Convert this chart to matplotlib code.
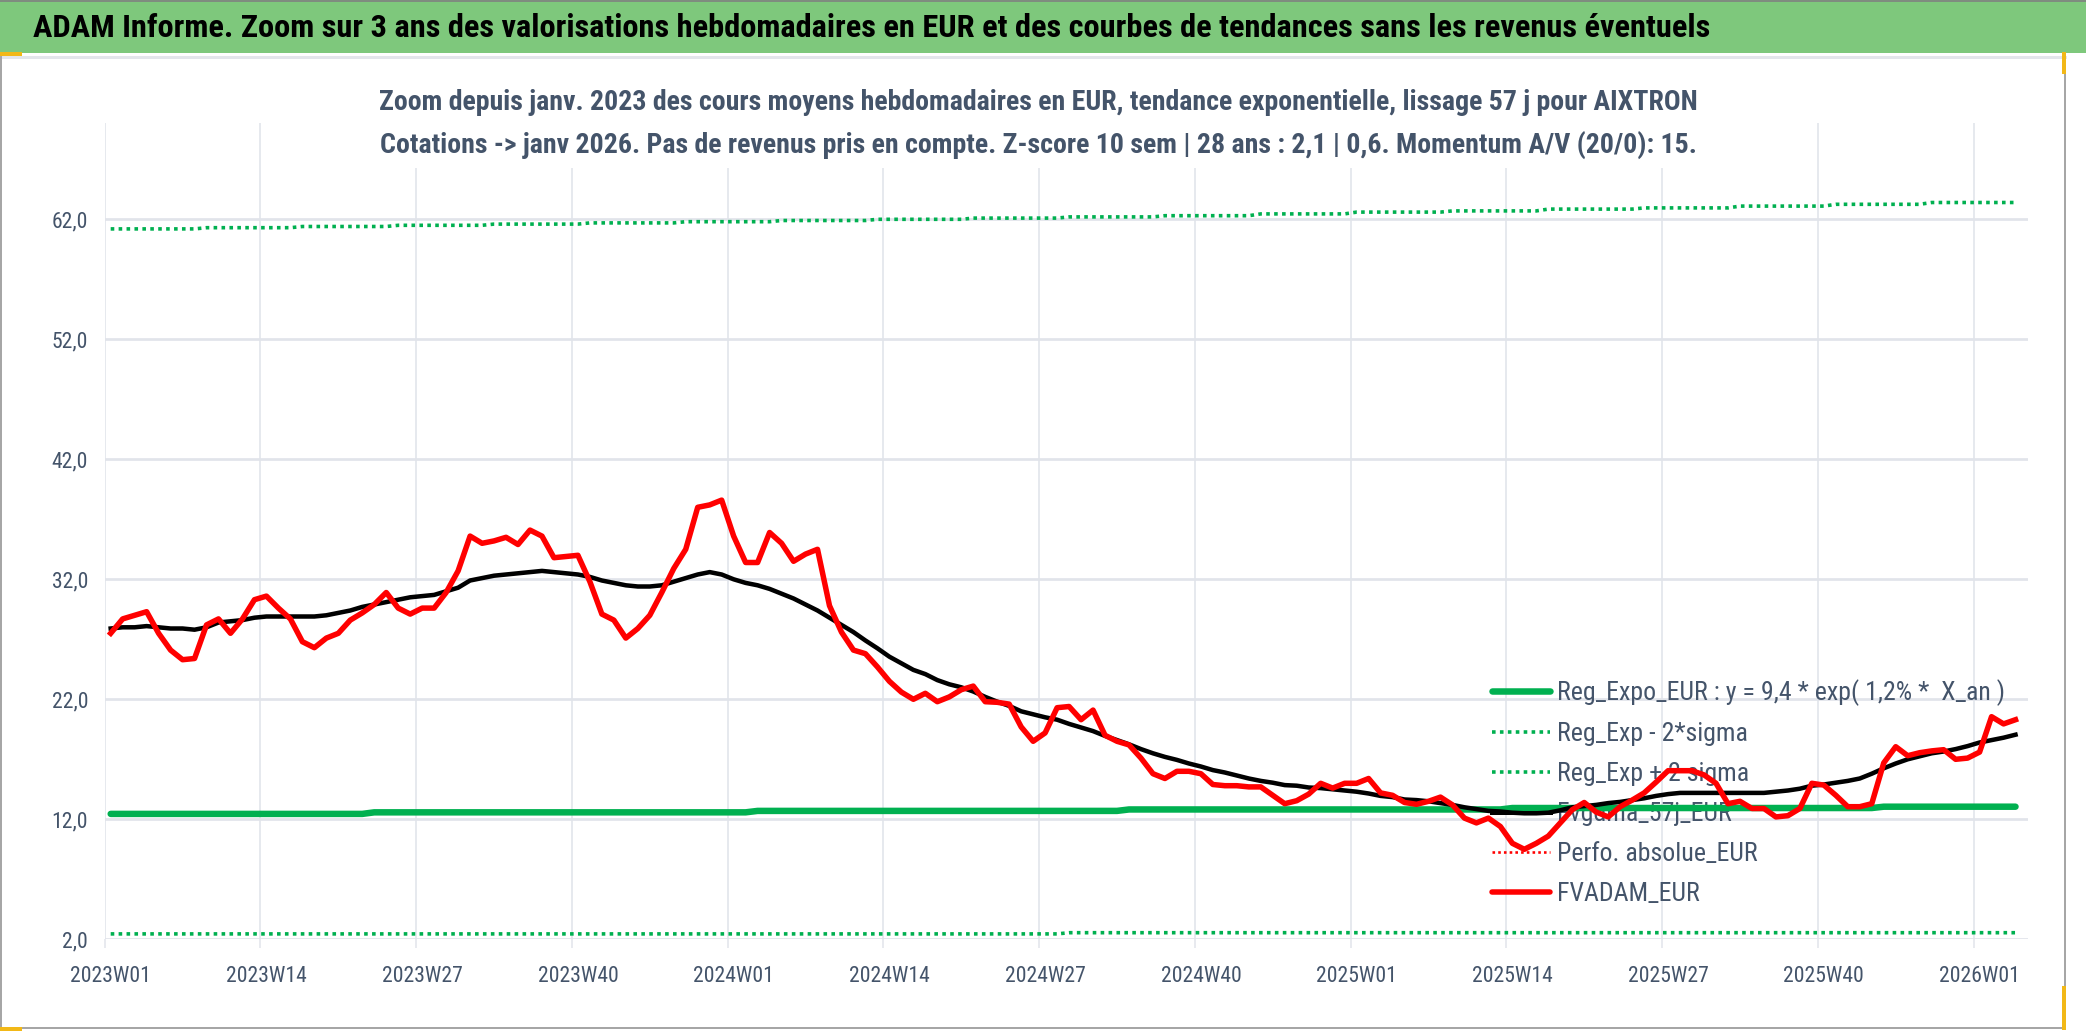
import os
import matplotlib
matplotlib.use("Agg")
import matplotlib.pyplot as plt
from matplotlib import font_manager as fm
from matplotlib.font_manager import FontProperties
from matplotlib.lines import Line2D
from matplotlib.patches import Rectangle

W, H = 2086, 1031

# weekly categories 2023W01 .. 2026W04
weeks = [f"{y}W{w:02d}" for y in (2023, 2024, 2025) for w in range(1, 53)]
weeks += [f"2026W{w:02d}" for w in range(1, 5)]

fvadam = [
    27.5, 28.7, 29.0, 29.3, 27.5, 26.1, 25.3, 25.4, 28.2, 28.7,
    27.5, 28.7, 30.3, 30.6, 29.6, 28.7, 26.8, 26.3, 27.1, 27.5,
    28.6, 29.2, 29.9, 30.9, 29.6, 29.1, 29.6, 29.6, 30.9, 32.7,
    35.6, 35.0, 35.2, 35.5, 34.9, 36.1, 35.6, 33.8, 33.9, 34.0,
    31.8, 29.1, 28.6, 27.1, 27.9, 29.0, 30.9, 32.9, 34.5, 38.0,
    38.2, 38.6, 35.6, 33.4, 33.4, 35.9, 35.0, 33.5, 34.1, 34.5,
    29.8, 27.6, 26.1, 25.8, 24.7, 23.5, 22.6, 22.0, 22.5, 21.8,
    22.2, 22.8, 23.1, 21.8, 21.75, 21.6, 19.7, 18.5, 19.2, 21.3,
    21.4, 20.3, 21.1, 19.0, 18.5, 18.2, 17.1, 15.8, 15.4, 16.0,
    16.0, 15.8, 14.9, 14.8, 14.8, 14.7, 14.7, 14.0, 13.3, 13.55,
    14.1, 15.0, 14.6, 15.0, 15.0, 15.4, 14.2, 14.0, 13.4, 13.25,
    13.5, 13.85, 13.2, 12.1, 11.7, 12.1, 11.4, 10.0, 9.5, 10.0,
    10.6, 11.7, 12.8, 13.4, 12.6, 12.2, 13.05, 13.6, 14.2, 15.1,
    16.05, 16.05, 16.05, 15.7, 15.0, 13.3, 13.5, 12.9, 12.9, 12.2,
    12.3, 12.9, 15.0, 14.85, 14.0, 13.05, 13.05, 13.3, 16.7, 18.05,
    17.3, 17.55, 17.7, 17.8, 17.0, 17.1, 17.6, 20.55, 19.95, 20.3,
]

fvgdma = [
    27.9, 28.0, 28.0, 28.1, 28.0, 27.9, 27.9, 27.8, 28.0, 28.4,
    28.5, 28.6, 28.8, 28.9, 28.9, 28.9, 28.9, 28.9, 29.0, 29.2,
    29.4, 29.7, 29.9, 30.1, 30.3, 30.5, 30.6, 30.7, 31.0, 31.3,
    31.9, 32.1, 32.3, 32.4, 32.5, 32.6, 32.7, 32.6, 32.5, 32.4,
    32.2, 31.9, 31.7, 31.5, 31.4, 31.4, 31.5, 31.8, 32.1, 32.4,
    32.6, 32.4, 32.0, 31.7, 31.5, 31.2, 30.8, 30.4, 29.9, 29.4,
    28.8, 28.2, 27.6, 26.9, 26.25, 25.55, 25.0, 24.45, 24.1, 23.6,
    23.25, 23.0, 22.65, 22.2, 21.8, 21.45, 21.0, 20.75, 20.5, 20.3,
    19.95, 19.65, 19.35, 18.95, 18.6, 18.25, 17.85, 17.5, 17.2, 16.95,
    16.65, 16.4, 16.1, 15.9, 15.65, 15.4, 15.2, 15.05, 14.85, 14.8,
    14.65, 14.6, 14.5, 14.4, 14.3, 14.15, 13.95, 13.85, 13.65, 13.6,
    13.5, 13.35, 13.2, 13.0, 12.85, 12.7, 12.65, 12.55, 12.5, 12.5,
    12.55, 12.75, 13.0, 13.1, 13.2, 13.35, 13.45, 13.6, 13.75, 13.95,
    14.1, 14.2, 14.2, 14.2, 14.2, 14.2, 14.2, 14.2, 14.2, 14.3,
    14.4, 14.55, 14.8, 14.9, 15.05, 15.2, 15.4, 15.8, 16.25, 16.65,
    17.0, 17.25, 17.5, 17.65, 17.85, 18.1, 18.4, 18.6, 18.8, 19.05,
]

reg_expo = ([12.45] * 22 + [12.58] * 32 + [12.7] * 31 + [12.82] * 32
            + [12.94] * 31 + [13.05] * 12)
# +2 sigma band, read in blocks of 8 weeks
plus_blocks = [61.2, 61.3, 61.4, 61.5, 61.6, 61.7, 61.8, 61.9, 62.0, 62.1,
               62.2, 62.3, 62.45, 62.6, 62.7, 62.85, 62.95, 63.1, 63.25, 63.4]
reg_plus = [v for v in plus_blocks for _ in range(8)]
reg_minus = [2.45] * 80 + [2.55] * 80

label_every = 13
yticks = [2, 12, 22, 32, 42, 52, 62]

title = ("ADAM Informe. Zoom sur 3 ans des valorisations hebdomadaires en EUR "
         "et des courbes de tendances sans les revenus éventuels")
sub1 = ("Zoom depuis janv. 2023 des cours moyens hebdomadaires en EUR, "
        "tendance exponentielle, lissage 57 j pour AIXTRON")
sub2 = ("Cotations -> janv 2026. Pas de revenus pris en compte. Z-score 10 sem "
        "| 28 ans : 2,1 | 0,6. Momentum A/V (20/0): 15.")
labels = [
    "Reg_Expo_EUR : y = 9,4 * exp( 1,2% *  X_an )",
    "Reg_Exp - 2*sigma",
    "Reg_Exp + 2 sigma",
    "Fvgdma_57j_EUR",
    "Perfo. absolue_EUR",
    "FVADAM_EUR",
]

# a narrow face looks closest to the original Calibri rendering
files = {os.path.basename(f.fname): f.fname for f in fm.fontManager.ttflist}
pairs = [("LiberationSansNarrow-Regular.ttf", "LiberationSansNarrow-Bold.ttf"),
         ("RobotoCondensed-Regular.ttf", "RobotoCondensed-Bold.ttf"),
         ("NotoSans-Condensed.ttf", "NotoSans-CondensedBold.ttf"),
         ("OpenSans_Condensed-Regular.ttf", "OpenSans_Condensed-Bold.ttf"),
         ("DejaVuSansCondensed.ttf", "DejaVuSansCondensed-Bold.ttf")]
REG = BOLD = None
for a, b in pairs:
    if a in files and b in files:
        REG, BOLD = files[a], files[b]
        break


def fp(size, bold=False):
    if REG:
        return FontProperties(fname=BOLD if bold else REG, size=size)
    return FontProperties(family="Liberation Sans",
                          weight="bold" if bold else "normal", size=size)


TXT = "#44546A"
GRID = "#E1E4EA"
GREEN = "#00B050"
PX = 72 / 100  # points per pixel


def fx(x):
    return x / W


def fy(y):
    return 1 - y / H


fig = plt.figure(figsize=(W / 100, H / 100), dpi=100)
fig.patch.set_facecolor("white")

# header band and chart frame
fig.add_artist(Rectangle((0, fy(53)), 1, 53 / H, transform=fig.transFigure,
                         facecolor="#7EC87C", edgecolor="none", zorder=1))
fig.add_artist(Line2D([0, 1], [fy(1), fy(1)], transform=fig.transFigure,
                      color="#7F8C7F", lw=2 * PX, zorder=2))
fig.add_artist(Line2D([0, fx(2065)], [fy(57), fy(57)], transform=fig.transFigure,
                      color="#E3E6EB", lw=3 * PX, zorder=1))
fig.add_artist(Line2D([fx(1), fx(1), fx(2065), fx(2065)],
                      [fy(57), fy(1028), fy(1028), fy(57)],
                      transform=fig.transFigure, color="#A6A6A6", lw=2 * PX, zorder=1))
for xs, ys in [([0, fx(20)], [fy(54), fy(54)]),
               ([fx(2064), fx(2064)], [fy(54), fy(72)]),
               ([fx(2064), fx(2064)], [fy(988), fy(1028)]),
               ([0, fx(20)], [fy(1029), fy(1029)])]:
    fig.add_artist(Line2D(xs, ys, transform=fig.transFigure, color="#F2B817",
                          lw=4 * PX, zorder=3))

left, right, top, bottom = 104.7, 2027.5, 123.3, 939.3
ax = fig.add_axes([fx(left), fy(bottom), (right - left) / W, (bottom - top) / H])
ax.set_zorder(0)

x = list(range(len(weeks)))
ax.plot(x, reg_expo, color=GREEN, lw=6.5 * PX, solid_capstyle="round", zorder=3)
ax.plot(x, reg_minus, color=GREEN, lw=3.6 * PX, ls=(0, (1, 1.2)),
        dash_capstyle="butt", zorder=3)
ax.plot(x, reg_plus, color=GREEN, lw=3.6 * PX, ls=(0, (1, 1.2)),
        dash_capstyle="butt", zorder=3)
ax.plot(x, fvgdma, color="black", lw=4.5 * PX, zorder=4)
ax.plot(x, fvadam, color="#FF0000", lw=5.5 * PX, zorder=5)

ax.set_xlim(-0.5, 160)
ax.set_ylim(2, 70)
major = list(range(0, len(weeks), label_every))
ax.set_xticks([i - 0.5 for i in major], minor=True)
ax.tick_params(axis="x", which="major", length=0, pad=19, colors=TXT)
ax.tick_params(axis="x", which="minor", length=9 * PX, width=1.5 * PX, color=GRID)
ax.tick_params(axis="y", length=0, pad=12, colors=TXT)
ax.grid(axis="y", which="major", color=GRID, lw=2.7 * PX)
ax.grid(axis="x", which="minor", color=GRID, lw=1.6 * PX)
ax.set_axisbelow(True)
for s in ax.spines.values():
    s.set_visible(False)

# white box of the chart title, hiding the gridlines behind it
fig.add_artist(Rectangle((fx(370), fy(168)), (1710 - 370) / W, (168 - 78) / H,
                         transform=fig.transFigure, facecolor="white",
                         edgecolor="none", zorder=2))

t_title = fig.text(fx(33), fy(28), title, ha="left", va="center", color="black",
                   fontproperties=fp(20, True), zorder=4)
t_sub1 = fig.text(fx(1038), fy(102), sub1, ha="center", va="center", color=TXT,
                  fontproperties=fp(18, True), zorder=4)
t_sub2 = fig.text(fx(1038), fy(145), sub2, ha="center", va="center", color=TXT,
                  fontproperties=fp(18, True), zorder=4)

fig.canvas.draw()
r = fig.canvas.get_renderer()


def fit(t, target):
    for _ in range(3):
        w = t.get_window_extent(r).width
        t.set_fontsize(t.get_fontsize() * target / w)


fit(t_title, 1676)
fit(t_sub1, 1318)
fit(t_sub2, 1318)

# tick label size from the width of one x label
probe = fig.text(0, 0, weeks[0], fontproperties=fp(16))
fit(probe, 81)
tick_fs = probe.get_fontsize()
probe.remove()

ax.set_xticks(major)
ax.set_xticklabels([weeks[i] for i in major], fontproperties=fp(tick_fs))
ax.set_yticks(yticks)
ax.set_yticklabels([f"{v:.1f}".replace(".", ",") for v in yticks],
                   fontproperties=fp(tick_fs))

handles = [
    Line2D([], [], color=GREEN, lw=6.5 * PX, solid_capstyle="round"),
    Line2D([], [], color=GREEN, lw=3.6 * PX, ls=(0, (1, 1.2)), dash_capstyle="butt"),
    Line2D([], [], color=GREEN, lw=3.6 * PX, ls=(0, (1, 1.2)), dash_capstyle="butt"),
    Line2D([], [], color="black", lw=5 * PX),
    Line2D([], [], color="#FF0000", lw=2.6 * PX, ls=(0, (1, 1.2)), dash_capstyle="butt"),
    Line2D([], [], color="#FF0000", lw=5.5 * PX, solid_capstyle="round"),
]


def make_legend(fs, spacing, anchor):
    fpx = fs / PX
    return ax.legend(handles, labels, loc="upper left", frameon=False,
                     bbox_to_anchor=anchor, bbox_transform=fig.transFigure,
                     prop=fp(fs), labelcolor=TXT, borderpad=0, borderaxespad=0,
                     handlelength=58 / fpx, handletextpad=7 / fpx,
                     labelspacing=spacing)


fs = 16
anchor = (fx(1492), fy(675))
leg = make_legend(fs, 0.5, anchor)
for _ in range(3):
    fig.canvas.draw()
    w = leg.get_texts()[0].get_window_extent(r).width
    fs *= 448 / w
    leg = make_legend(fs, 0.5, anchor)
fig.canvas.draw()
tx = leg.get_texts()
d = (tx[0].get_window_extent(r).y0 - tx[-1].get_window_extent(r).y0) / 5
spacing = 0.5 + (40 - d) / (fs / PX)
leg = make_legend(fs, spacing, anchor)
for _ in range(2):
    fig.canvas.draw()
    e = leg.get_texts()[0].get_window_extent(r)
    cy = (e.y0 + e.y1) / 2
    anchor = (anchor[0], anchor[1] + ((H - 693) - cy) / H)
    leg = make_legend(fs, spacing, anchor)
leg.set_zorder(2.5)

fig.savefig("out.png", dpi=100)
